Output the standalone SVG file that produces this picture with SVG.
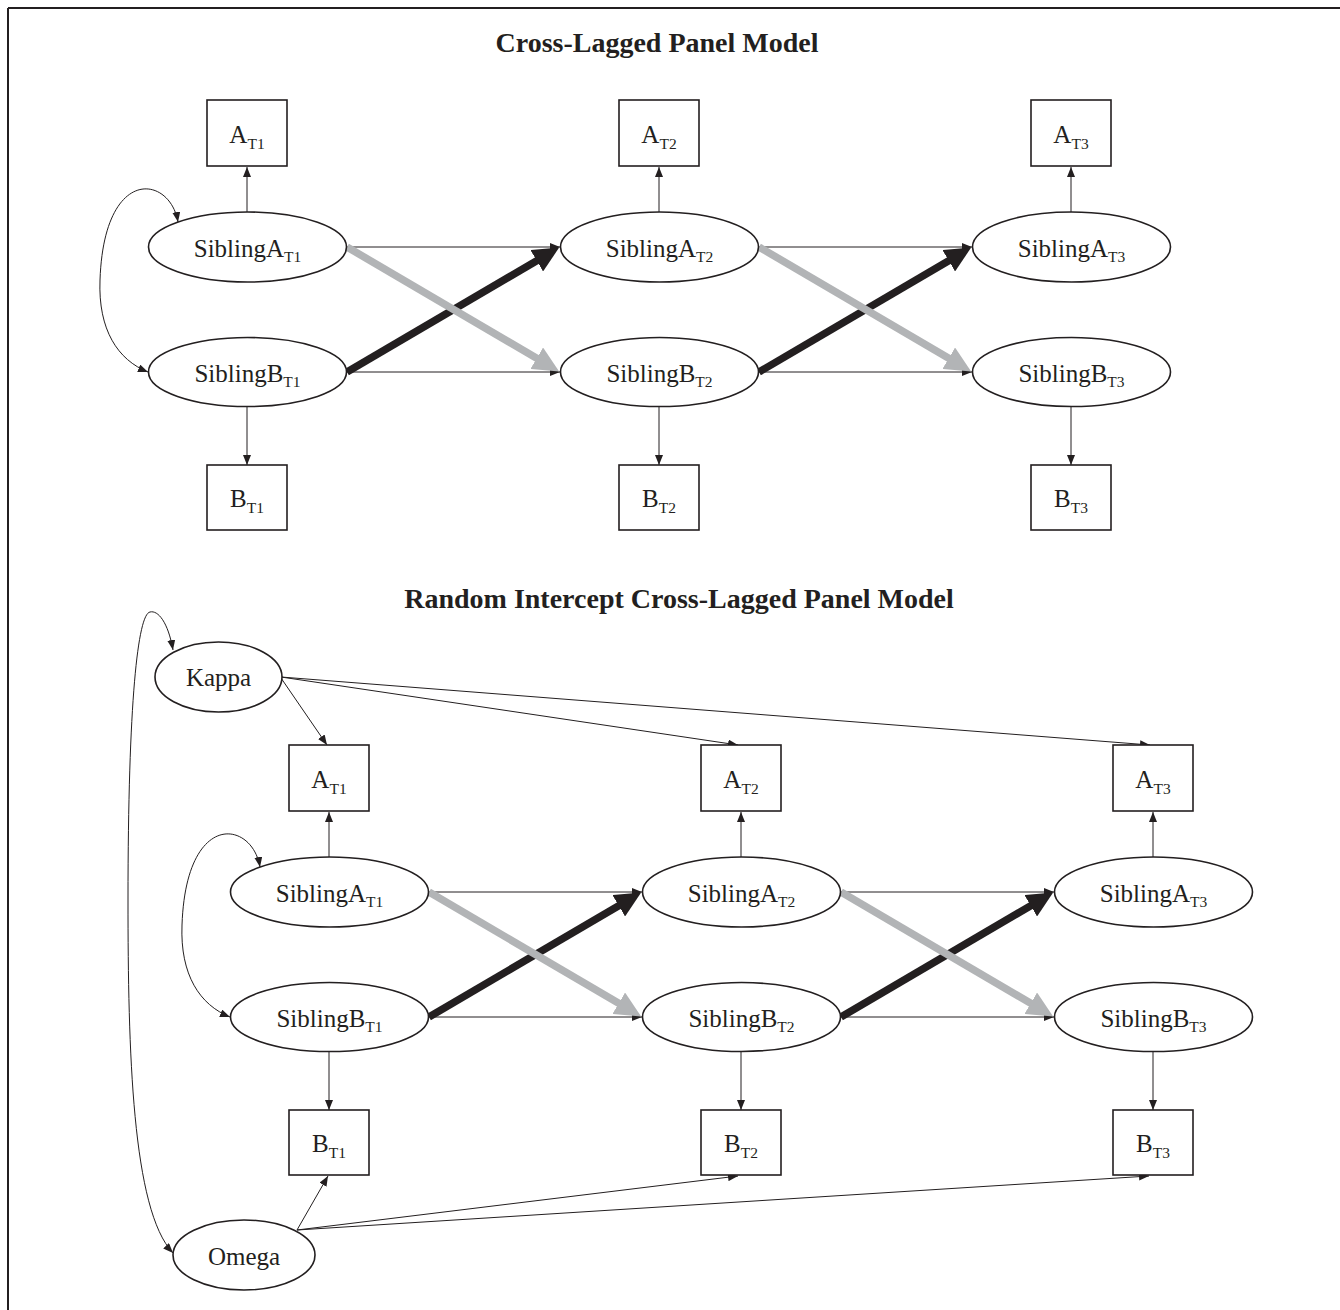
<svg xmlns="http://www.w3.org/2000/svg" width="1340" height="1310" viewBox="0 0 1340 1310">
<style>
.bg{fill:#ffffff}
.frame{stroke:#231f20;stroke-width:2;fill:none}
.box{fill:#ffffff;stroke:#231f20;stroke-width:1.6}
.ell{fill:#ffffff;stroke:#231f20;stroke-width:1.6}
.lbl{font-family:"Liberation Serif","Times New Roman",serif;font-size:25px;fill:#231f20;text-anchor:middle}
.sub{font-size:15.5px}
.title{font-family:"Liberation Serif","Times New Roman",serif;font-size:28px;font-weight:bold;fill:#231f20;text-anchor:middle}
.thin{stroke:#231f20;stroke-width:1;fill:none;marker-end:url(#ah)}
.curve{stroke:#231f20;stroke-width:1;fill:none;marker-end:url(#ah);marker-start:url(#ah)}
.blk{stroke:#231f20;stroke-width:7.5;fill:none;marker-end:url(#ahB)}
.gry{stroke:#b2b4b6;stroke-width:7.5;fill:none;marker-end:url(#ahG)}
</style>
<defs>
<marker id="ah" viewBox="0 0 10 8" refX="10" refY="4" markerWidth="10" markerHeight="8" markerUnits="userSpaceOnUse" orient="auto-start-reverse">
<path d="M0,0 L10,4 L0,8 z" fill="#231f20"/>
</marker>
<marker id="ahB" viewBox="0 -12.5 26 25" refX="1" refY="0" markerWidth="26" markerHeight="25" markerUnits="userSpaceOnUse" orient="auto">
<path d="M0,-12.5 L26,0 L0,12.5 z" fill="#231f20"/>
</marker>
<marker id="ahG" viewBox="0 -12.5 26 25" refX="1" refY="0" markerWidth="26" markerHeight="25" markerUnits="userSpaceOnUse" orient="auto">
<path d="M0,-12.5 L26,0 L0,12.5 z" fill="#b2b4b6"/>
</marker>
</defs>
<rect class="bg" x="0" y="0" width="1340" height="1310"/>
<g id="frame">
<line class="frame" x1="8" y1="8" x2="1340" y2="8"/>
<line class="frame" x1="8" y1="8" x2="8" y2="1310"/>
</g>
<text class="title" x="657" y="52">Cross-Lagged Panel Model</text>
<text class="title" x="679" y="608">Random Intercept Cross-Lagged Panel Model</text>

<!-- Top panel -->
<g id="clpm">
<g id="clpm-connectors">
<line class="thin" x1="247" y1="212" x2="247" y2="167"/>
<line class="thin" x1="247" y1="406" x2="247" y2="465"/>
<line class="thin" x1="659" y1="212" x2="659" y2="167"/>
<line class="thin" x1="659" y1="406" x2="659" y2="465"/>
<line class="thin" x1="1071" y1="212" x2="1071" y2="167"/>
<line class="thin" x1="1071" y1="406" x2="1071" y2="465"/>
<line class="thin" x1="347" y1="247" x2="560" y2="247"/>
<line class="thin" x1="347" y1="372" x2="560" y2="372"/>
<line class="thin" x1="759" y1="247" x2="972" y2="247"/>
<line class="thin" x1="759" y1="372" x2="972" y2="372"/>
<path class="curve" d="M178,222 C170,175 104,165 100,280 C98,330 118,360 148,372"/>
<line class="blk" x1="347" y1="372" x2="537.6" y2="260.2"/>
<line class="gry" x1="347" y1="247" x2="537.6" y2="358.8"/>
<line class="blk" x1="759" y1="372" x2="949.6" y2="260.2"/>
<line class="gry" x1="759" y1="247" x2="949.6" y2="358.8"/>
</g>
<g id="clpm-A1"><rect class="box" x="207" y="100" width="80" height="66"/><text class="lbl" x="247" y="143">A<tspan class="sub" dy="6">T1</tspan></text></g>
<g id="clpm-A2"><rect class="box" x="619" y="100" width="80" height="66"/><text class="lbl" x="659" y="143">A<tspan class="sub" dy="6">T2</tspan></text></g>
<g id="clpm-A3"><rect class="box" x="1031" y="100" width="80" height="66"/><text class="lbl" x="1071" y="143">A<tspan class="sub" dy="6">T3</tspan></text></g>
<g id="clpm-SA1"><ellipse class="ell" cx="247.5" cy="247" rx="99" ry="35"/><text class="lbl" x="247.5" y="256.5">SiblingA<tspan class="sub" dy="5">T1</tspan></text></g>
<g id="clpm-SA2"><ellipse class="ell" cx="659.5" cy="247" rx="99" ry="35"/><text class="lbl" x="659.5" y="256.5">SiblingA<tspan class="sub" dy="5">T2</tspan></text></g>
<g id="clpm-SA3"><ellipse class="ell" cx="1071.5" cy="247" rx="99" ry="35"/><text class="lbl" x="1071.5" y="256.5">SiblingA<tspan class="sub" dy="5">T3</tspan></text></g>
<g id="clpm-SB1"><ellipse class="ell" cx="247.5" cy="372" rx="99" ry="34.5"/><text class="lbl" x="247.5" y="381.5">SiblingB<tspan class="sub" dy="5">T1</tspan></text></g>
<g id="clpm-SB2"><ellipse class="ell" cx="659.5" cy="372" rx="99" ry="34.5"/><text class="lbl" x="659.5" y="381.5">SiblingB<tspan class="sub" dy="5">T2</tspan></text></g>
<g id="clpm-SB3"><ellipse class="ell" cx="1071.5" cy="372" rx="99" ry="34.5"/><text class="lbl" x="1071.5" y="381.5">SiblingB<tspan class="sub" dy="5">T3</tspan></text></g>
<g id="clpm-B1"><rect class="box" x="207" y="465" width="80" height="65"/><text class="lbl" x="247" y="507">B<tspan class="sub" dy="6">T1</tspan></text></g>
<g id="clpm-B2"><rect class="box" x="619" y="465" width="80" height="65"/><text class="lbl" x="659" y="507">B<tspan class="sub" dy="6">T2</tspan></text></g>
<g id="clpm-B3"><rect class="box" x="1031" y="465" width="80" height="65"/><text class="lbl" x="1071" y="507">B<tspan class="sub" dy="6">T3</tspan></text></g>
</g>

<!-- Bottom panel -->
<g id="riclpm-connectors">
<path class="curve" d="M173,650 C168,622 158,610 150,612 C138,614 128,700 128,900 C128,1050 132,1210 173,1253"/>
<line class="thin" x1="281" y1="678" x2="327" y2="745"/>
<line class="thin" x1="281" y1="677" x2="738" y2="745"/>
<line class="thin" x1="281" y1="677" x2="1150" y2="745"/>
<line class="thin" x1="297" y1="1230" x2="328" y2="1176"/>
<line class="thin" x1="297" y1="1230" x2="738" y2="1176"/>
<line class="thin" x1="297" y1="1230" x2="1149" y2="1176"/>
</g>
<g id="riclpm-Kappa"><ellipse class="ell" cx="218.5" cy="677" rx="63.5" ry="35"/><text class="lbl" x="218.5" y="686">Kappa</text></g>
<g id="riclpm-Omega"><ellipse class="ell" cx="244" cy="1255" rx="71" ry="35"/><text class="lbl" x="244" y="1265">Omega</text></g>
<g id="riclpm" transform="translate(82,645)">
<g id="riclpm-inner-connectors">
<line class="thin" x1="247" y1="212" x2="247" y2="167"/>
<line class="thin" x1="247" y1="406" x2="247" y2="465"/>
<line class="thin" x1="659" y1="212" x2="659" y2="167"/>
<line class="thin" x1="659" y1="406" x2="659" y2="465"/>
<line class="thin" x1="1071" y1="212" x2="1071" y2="167"/>
<line class="thin" x1="1071" y1="406" x2="1071" y2="465"/>
<line class="thin" x1="347" y1="247" x2="560" y2="247"/>
<line class="thin" x1="347" y1="372" x2="560" y2="372"/>
<line class="thin" x1="759" y1="247" x2="972" y2="247"/>
<line class="thin" x1="759" y1="372" x2="972" y2="372"/>
<path class="curve" d="M178,222 C170,175 104,165 100,280 C98,330 118,360 148,372"/>
<line class="blk" x1="347" y1="372" x2="537.6" y2="260.2"/>
<line class="gry" x1="347" y1="247" x2="537.6" y2="358.8"/>
<line class="blk" x1="759" y1="372" x2="949.6" y2="260.2"/>
<line class="gry" x1="759" y1="247" x2="949.6" y2="358.8"/>
</g>
<g id="riclpm-A1"><rect class="box" x="207" y="100" width="80" height="66"/><text class="lbl" x="247" y="143">A<tspan class="sub" dy="6">T1</tspan></text></g>
<g id="riclpm-A2"><rect class="box" x="619" y="100" width="80" height="66"/><text class="lbl" x="659" y="143">A<tspan class="sub" dy="6">T2</tspan></text></g>
<g id="riclpm-A3"><rect class="box" x="1031" y="100" width="80" height="66"/><text class="lbl" x="1071" y="143">A<tspan class="sub" dy="6">T3</tspan></text></g>
<g id="riclpm-SA1"><ellipse class="ell" cx="247.5" cy="247" rx="99" ry="35"/><text class="lbl" x="247.5" y="256.5">SiblingA<tspan class="sub" dy="5">T1</tspan></text></g>
<g id="riclpm-SA2"><ellipse class="ell" cx="659.5" cy="247" rx="99" ry="35"/><text class="lbl" x="659.5" y="256.5">SiblingA<tspan class="sub" dy="5">T2</tspan></text></g>
<g id="riclpm-SA3"><ellipse class="ell" cx="1071.5" cy="247" rx="99" ry="35"/><text class="lbl" x="1071.5" y="256.5">SiblingA<tspan class="sub" dy="5">T3</tspan></text></g>
<g id="riclpm-SB1"><ellipse class="ell" cx="247.5" cy="372" rx="99" ry="34.5"/><text class="lbl" x="247.5" y="381.5">SiblingB<tspan class="sub" dy="5">T1</tspan></text></g>
<g id="riclpm-SB2"><ellipse class="ell" cx="659.5" cy="372" rx="99" ry="34.5"/><text class="lbl" x="659.5" y="381.5">SiblingB<tspan class="sub" dy="5">T2</tspan></text></g>
<g id="riclpm-SB3"><ellipse class="ell" cx="1071.5" cy="372" rx="99" ry="34.5"/><text class="lbl" x="1071.5" y="381.5">SiblingB<tspan class="sub" dy="5">T3</tspan></text></g>
<g id="riclpm-B1"><rect class="box" x="207" y="465" width="80" height="65"/><text class="lbl" x="247" y="507">B<tspan class="sub" dy="6">T1</tspan></text></g>
<g id="riclpm-B2"><rect class="box" x="619" y="465" width="80" height="65"/><text class="lbl" x="659" y="507">B<tspan class="sub" dy="6">T2</tspan></text></g>
<g id="riclpm-B3"><rect class="box" x="1031" y="465" width="80" height="65"/><text class="lbl" x="1071" y="507">B<tspan class="sub" dy="6">T3</tspan></text></g>
</g>
</svg>
